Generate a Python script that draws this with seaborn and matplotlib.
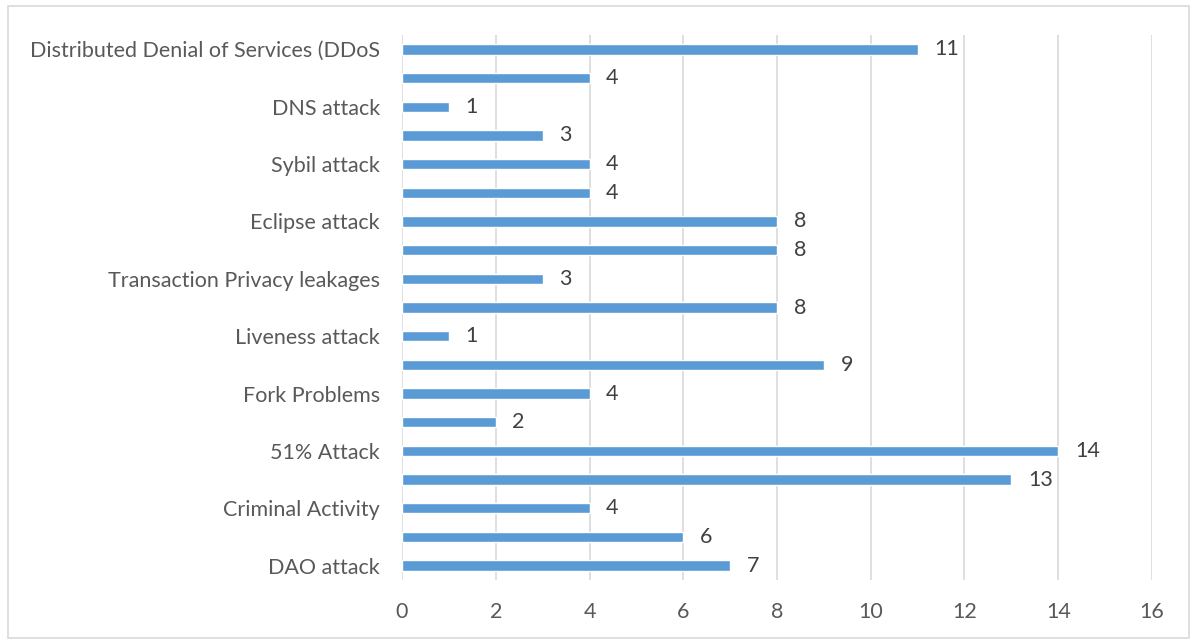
import matplotlib
matplotlib.use("Agg")
import matplotlib.pyplot as plt
import seaborn as sns
import pandas as pd
from matplotlib.patches import Rectangle

# Categories top to bottom (labels Excel skipped are unknown -> blank)
labels = ["Distributed Denial of Services (DDoS", "", "DNS attack", "", "Sybil attack", "",
          "Eclipse attack", "", "Transaction Privacy leakages", "", "Liveness attack", "",
          "Fork Problems", "", "51% Attack", "", "Criminal Activity", "", "DAO attack"]
values = [11, 4, 1, 3, 4, 4, 8, 8, 3, 8, 1, 9, 4, 2, 14, 13, 4, 6, 7]
xticks = [0, 2, 4, 6, 8, 10, 12, 14, 16]

keys = [f"k{i}" for i in range(len(labels))]
df = pd.DataFrame({"key": keys, "value": values})

sns.set_style("white")
plt.rcParams['font.family'] = ['Lato', 'DejaVu Sans']

fig = plt.figure(figsize=(11.93, 6.41), dpi=100)
ax = fig.add_axes([402/1193, 1-580/641, (1152-402)/1193, (580-35)/641])

sns.barplot(data=df, x="value", y="key", orient="h", color="#5B9BD5",
            width=0.36, saturation=1, ax=ax, zorder=3)

ax.set_xlim(0, 16)
ax.set_xticks(xticks)
ax.set_xticklabels([str(t) for t in xticks])
ax.set_yticks(range(len(labels)))
ax.set_yticklabels(labels)
ax.set_xlabel("")
ax.set_ylabel("")
for s in ax.spines.values():
    s.set_visible(False)
ax.grid(axis="x", color="#D9D9D9", linewidth=1.2, zorder=0)
ax.set_axisbelow(True)
ax.tick_params(axis="both", length=0, labelsize=15.5, labelcolor="#595959")
ax.tick_params(axis="y", pad=16)
ax.tick_params(axis="x", pad=16)

for i, v in enumerate(values):
    ax.annotate(str(v), (v, i), xytext=(12, 0), textcoords="offset points",
                va="center", ha="left", fontsize=15.5, color="#404040")

fig.patches.append(Rectangle((8/1193, 3/641), 1181/1193, 632/641, transform=fig.transFigure,
                             fill=False, edgecolor="#D9D9D9", linewidth=1.2))

fig.savefig("out.png", dpi=100)
